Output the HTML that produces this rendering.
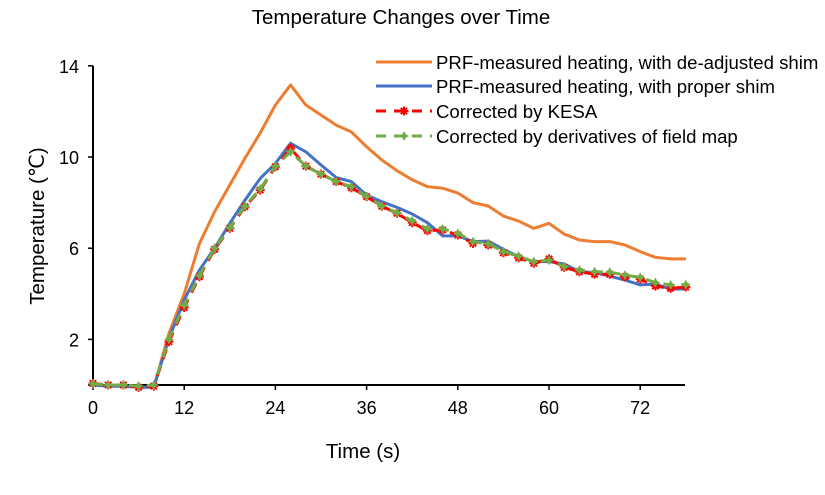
<!DOCTYPE html>
<html><head><meta charset="utf-8"><style>
body{margin:0;background:#fff;}
svg{display:block;font-family:"Liberation Sans",Arial,sans-serif;}
</style></head><body>
<svg id="chart" width="825" height="495">
<text x="401" y="24" font-size="20.5" text-anchor="middle">Temperature Changes over Time</text>
<text transform="translate(44,226) rotate(-90)" font-size="20.5" text-anchor="middle">Temperature (℃)</text>
<text x="363" y="458" font-size="20.5" text-anchor="middle">Time (s)</text>
<g id="axes"></g>
<g id="series"></g>
<g>
 <g><line x1="376" y1="62" x2="432" y2="62" stroke="#ED7D31" stroke-width="3"/><text x="436" y="69" font-size="18.6">PRF-measured heating, with de-adjusted shim</text></g>
 <g><line x1="376" y1="86" x2="432" y2="86" stroke="#4472C4" stroke-width="3"/><text x="436" y="93" font-size="18.6">PRF-measured heating, with proper shim</text></g>
 <g><line x1="376" y1="111" x2="432" y2="111" stroke="#FF0000" stroke-width="3" stroke-dasharray="10,8"/><g id="lgk"></g><text x="436" y="118" font-size="18.6">Corrected by KESA</text></g>
 <g><line x1="376" y1="136" x2="432" y2="136" stroke="#70AD47" stroke-width="3" stroke-dasharray="10,8"/><g id="lgd"></g><text x="436" y="143" font-size="18.6">Corrected by derivatives of field map</text></g>
</g>
</svg>
<script>
const times = [0,2,4,6,8,10,12,14,16,18,20,22,24,26,28,30,32,34,36,38,40,42,44,46,48,50,52,54,56,58,60,62,64,66,68,70,72,74,76,78];
const deadjusted = [0,-0.05,-0.05,-0.1,-0.1,2.27,4.0,6.2,7.6,8.77,9.95,11.05,12.28,13.16,12.28,11.84,11.4,11.1,10.45,9.87,9.4,9.0,8.7,8.63,8.42,8.0,7.85,7.41,7.19,6.87,7.09,6.62,6.36,6.29,6.29,6.14,5.85,5.6,5.53,5.53];
const proper = [0,-0.05,-0.05,-0.1,-0.1,2.05,3.73,5.04,6.0,7.09,8.11,9.06,9.72,10.6,10.23,9.65,9.1,8.92,8.33,8.04,7.79,7.5,7.12,6.54,6.54,6.29,6.31,5.95,5.63,5.41,5.41,5.31,4.97,4.93,4.78,4.6,4.39,4.43,4.2,4.22];
const kesa = [0.07,0,0,-0.1,-0.05,1.9,3.4,4.75,5.95,6.87,7.82,8.55,9.57,10.38,9.6,9.25,8.92,8.65,8.26,7.84,7.53,7.12,6.77,6.8,6.58,6.21,6.14,5.8,5.58,5.34,5.53,5.16,4.97,4.86,4.86,4.75,4.65,4.34,4.24,4.3];
const derivatives = [0.05,0,0,-0.05,0,2.0,3.5,4.8,6.0,6.9,7.85,8.6,9.6,10.23,9.6,9.25,8.92,8.7,8.28,7.85,7.55,7.2,6.85,6.85,6.65,6.29,6.2,5.85,5.65,5.41,5.47,5.2,5.04,4.97,4.95,4.82,4.72,4.49,4.39,4.4];
const xTicks = [0,12,24,36,48,60,72];
const yTicks = [2,6,10,14];
const NS="http://www.w3.org/2000/svg";
const X0=93, PXS=7.6, Y0=385, PYU=22.8;
const xs=t=>X0+t*PXS, ys=v=>Y0-v*PYU;
function mk(tag,at,parent){const e=document.createElementNS(NS,tag);for(const k in at)e.setAttribute(k,at[k]);parent.appendChild(e);return e;}
const ax=document.getElementById('axes');
let l=mk('line',{x1:X0,y1:ys(14),x2:X0,y2:Y0,stroke:'#000','stroke-width':2},ax);


l=mk('line',{x1:X0-1,y1:Y0,x2:685,y2:Y0,stroke:'#000','stroke-width':2},ax);


xTicks.forEach(t=>{
 mk('line',{x1:xs(t),y1:Y0,x2:xs(t),y2:Y0+5,stroke:'#000','stroke-width':1.5},ax);
 const tx=mk('text',{x:xs(t),y:Y0+29,'font-size':18,'text-anchor':'middle'},ax);
 tx.textContent=t;
 
 
});
yTicks.forEach(v=>{
 mk('line',{x1:X0-5,y1:ys(v),x2:X0,y2:ys(v),stroke:'#000','stroke-width':1.5},ax);
 const tx=mk('text',{x:X0-14,y:ys(v)+7,'font-size':18,'text-anchor':'end'},ax);
 tx.textContent=v;
 
 
});
mk('line',{x1:X0-5,y1:Y0,x2:X0,y2:Y0,stroke:'#000','stroke-width':1.5},ax);
const sg=document.getElementById('series');
function line(vals,color,dash,name){
 const p=mk('polyline',{points:vals.map((v,i)=>xs(times[i])+','+ys(v)).join(' '),fill:'none',stroke:color,'stroke-width':3,'stroke-linejoin':'round'},sg);
 if(dash)p.setAttribute('stroke-dasharray',dash);
 
 
}
function star(g,x,y,color){
 for(let a=0;a<180;a+=45){const r=a*Math.PI/180;mk('line',{x1:x-4.5*Math.cos(r),y1:y-4.5*Math.sin(r),x2:x+4.5*Math.cos(r),y2:y+4.5*Math.sin(r),stroke:color,'stroke-width':2},g);}
}
function plus(g,x,y,color){
 mk('polygon',{points:`${x},${y-5} ${x+1.8},${y-1.8} ${x+5},${y} ${x+1.8},${y+1.8} ${x},${y+5} ${x-1.8},${y+1.8} ${x-5},${y} ${x-1.8},${y-1.8}`,fill:color},g);
}
line(deadjusted,'#ED7D31',null,'series-deadjusted-shim');
line(proper,'#4472C4',null,'series-proper-shim');
line(kesa,'#FF0000','10,8','series-kesa');
kesa.forEach((v,i)=>{const g=mk('g',{},sg);star(g,xs(times[i]),ys(v),'#FF0000');});
line(derivatives,'#70AD47','10,8','series-derivatives');
derivatives.forEach((v,i)=>{const g=mk('g',{},sg);plus(g,xs(times[i]),ys(v),'#70AD47');});
star(document.getElementById('lgk'),404,111,'#FF0000');
plus(document.getElementById('lgd'),404,136,'#70AD47');
</script>
</body></html>
